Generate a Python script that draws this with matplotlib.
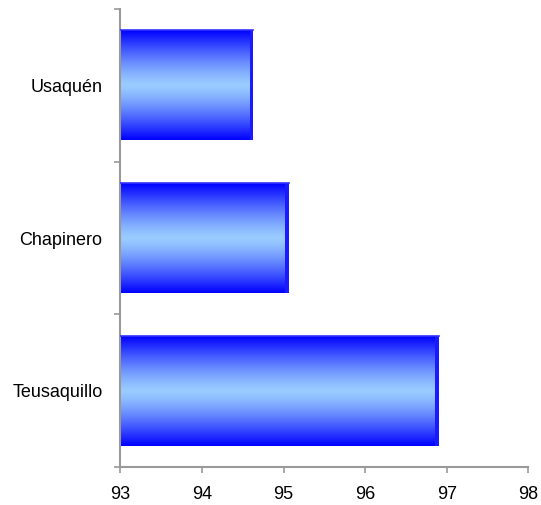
import matplotlib.pyplot as plt
import numpy as np
from matplotlib.colors import LinearSegmentedColormap

plt.rcParams['font.family'] = ['Liberation Sans', 'DejaVu Sans']

# data (bottom to top)
districts = ['Teusaquillo', 'Chapinero', 'Usaquén']
values = [96.9, 95.06, 94.63]
x_ticks = [93, 94, 95, 96, 97, 98]

base = 93
bar_h = 0.72

fig = plt.figure(figsize=(5.41, 5.05), dpi=100)
ax = fig.add_axes([0.2227, 0.0752, 0.754, 0.907])

# vertical gradient: blue at edges, light blue in the middle
cmap = LinearSegmentedColormap.from_list('bar', ['#0000ff', '#99ccff'])
t = 1 - np.abs(np.linspace(-1, 1, 200)) ** 1.3
grad = t.reshape(-1, 1)

for i, v in enumerate(values):
    ax.imshow(grad, cmap=cmap, aspect='auto', interpolation='bilinear',
              extent=[base, v, i - bar_h / 2, i + bar_h / 2], zorder=2)
    # thin side face to mimic the 3D look
    ax.barh(i, 0.04, left=v - 0.04, height=bar_h, color='#1a1aff', zorder=3)
    ax.plot([base, v], [i + bar_h / 2, i + bar_h / 2], color='#3333ff', lw=1.2, zorder=3)

ax.set_xlim(93, 98)
ax.set_ylim(-0.5, 2.5)
ax.set_xticks(x_ticks)
ax.set_xticklabels([str(x) for x in x_ticks])

# category boundaries as major ticks, names on minor ticks
ax.set_yticks([-0.5, 0.5, 1.5, 2.5])
ax.set_yticklabels([])
ax.set_yticks(range(len(districts)), minor=True)
ax.set_yticklabels(districts, minor=True)

for s in ['top', 'right']:
    ax.spines[s].set_visible(False)
for s in ['left', 'bottom']:
    ax.spines[s].set_color('#999999')
    ax.spines[s].set_linewidth(1.5)

ax.tick_params(axis='x', length=4, width=1.2, color='#999999', pad=10, labelsize=13)
ax.tick_params(axis='y', which='major', length=4, width=1.2, color='#999999')
ax.tick_params(axis='y', which='minor', length=0, pad=13, labelsize=13)

fig.savefig('out.png', dpi=100)
